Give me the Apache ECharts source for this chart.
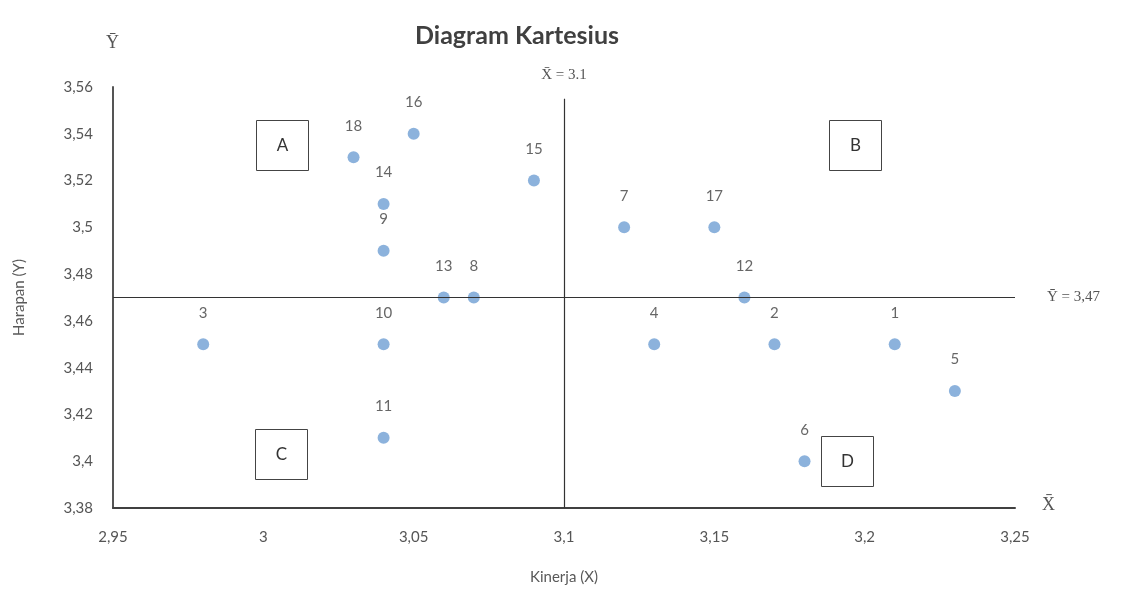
<!DOCTYPE html>
<html><head><meta charset="utf-8">
<script src="https://cdn.jsdelivr.net/npm/echarts@6/dist/echarts.min.js"></script>
<style>html,body{margin:0;padding:0;background:#fff}#c{width:1134px;height:591px}</style>
</head><body><div id="c"></div>
<script>
const ids = ['1','2','3','4','5','6','7','8','9','10','11','12','13','14','15','16','17','18'];
const kinerja = [3.21,3.17,2.98,3.13,3.23,3.18,3.12,3.07,3.04,3.04,3.04,3.16,3.06,3.04,3.09,3.05,3.15,3.03];
const harapan = [3.45,3.45,3.45,3.45,3.43,3.40,3.50,3.47,3.49,3.45,3.41,3.47,3.47,3.51,3.52,3.54,3.50,3.53];
const meanX = 3.1, meanY = 3.47;
const quadrants = ['A','B','C','D'];

const fmt = v => String(+(+v).toFixed(2)).replace('.', ',');
const data = ids.map((id,i)=>({value:[kinerja[i],harapan[i]], name:id}));
const font = 'Lato, "Open Sans", sans-serif';
const chart = echarts.init(document.getElementById('c'));
const boxPos = [[256,120],[829,120],[255,429],[821,436]];
chart.setOption({
  animation:false,
  backgroundColor:'#fff',
  title:{text:'Diagram Kartesius',left:512,top:18,textAlign:'center',
    textStyle:{fontFamily:font,fontWeight:'bold',fontSize:25,color:'#404040'}},
  grid:{left:113,right:119,top:87,bottom:83},
  xAxis:{type:'value',min:2.95,max:3.25,interval:0.05,
    name:'Kinerja (X)',nameLocation:'middle',nameGap:62,
    nameTextStyle:{fontFamily:font,fontSize:15,color:'#595959'},
    axisLine:{show:true,lineStyle:{color:'#404040',width:2}},
    axisTick:{show:false},splitLine:{show:false},
    axisLabel:{formatter:fmt,margin:22,fontFamily:font,fontSize:15,color:'#555'}},
  yAxis:{type:'value',min:3.38,max:3.56,interval:0.02,
    name:'Harapan (Y)',nameLocation:'middle',nameGap:86,
    nameTextStyle:{fontFamily:font,fontSize:15,color:'#595959'},
    axisLine:{show:true,lineStyle:{color:'#555',width:2}},
    axisTick:{show:false},splitLine:{show:false},
    axisLabel:{formatter:fmt,margin:20,fontFamily:font,fontSize:15,color:'#555'}},
  graphic:[
    {type:'text',left:106,top:34,style:{text:'Ȳ',font:'18px "Liberation Serif"',fill:'#555'}},
    {type:'text',left:1042,top:496,style:{text:'X̄',font:'18px "Liberation Serif"',fill:'#555'}},
    ...quadrants.map((q,i)=>({type:'group',left:boxPos[i][0],top:boxPos[i][1],children:[
      {type:'rect',shape:{x:0,y:0,width:52,height:50},style:{fill:'#fff',stroke:'#444',lineWidth:1}},
      {type:'text',x:26,y:25,style:{text:q,font:'17px '+font,fill:'#333',align:'center',verticalAlign:'middle'}}
    ]}))
  ],
  series:[{
    type:'scatter',data:data,symbolSize:12,
    itemStyle:{color:'#6f9fd3'},
    label:{show:true,position:'top',distance:18,formatter:p=>p.name,
      fontFamily:font,fontSize:15,color:'#404040'},
    markLine:{silent:true,symbol:'none',
      lineStyle:{color:'#333',width:1.2,type:'solid'},
      data:[
        [{coord:[meanX,3.38]},{coord:[meanX,3.555],label:{show:true,position:'end',formatter:'X̄ = 3.1',distance:16,
            fontFamily:'Liberation Serif',fontSize:15,color:'#555'}}],
        [{coord:[2.95,meanY]},{coord:[3.25,meanY],label:{show:true,position:'end',distance:32,formatter:'Ȳ = 3,47',
            fontFamily:'Liberation Serif',fontSize:15,color:'#555'}}]
      ]}
  }]
});
</script></body></html>
